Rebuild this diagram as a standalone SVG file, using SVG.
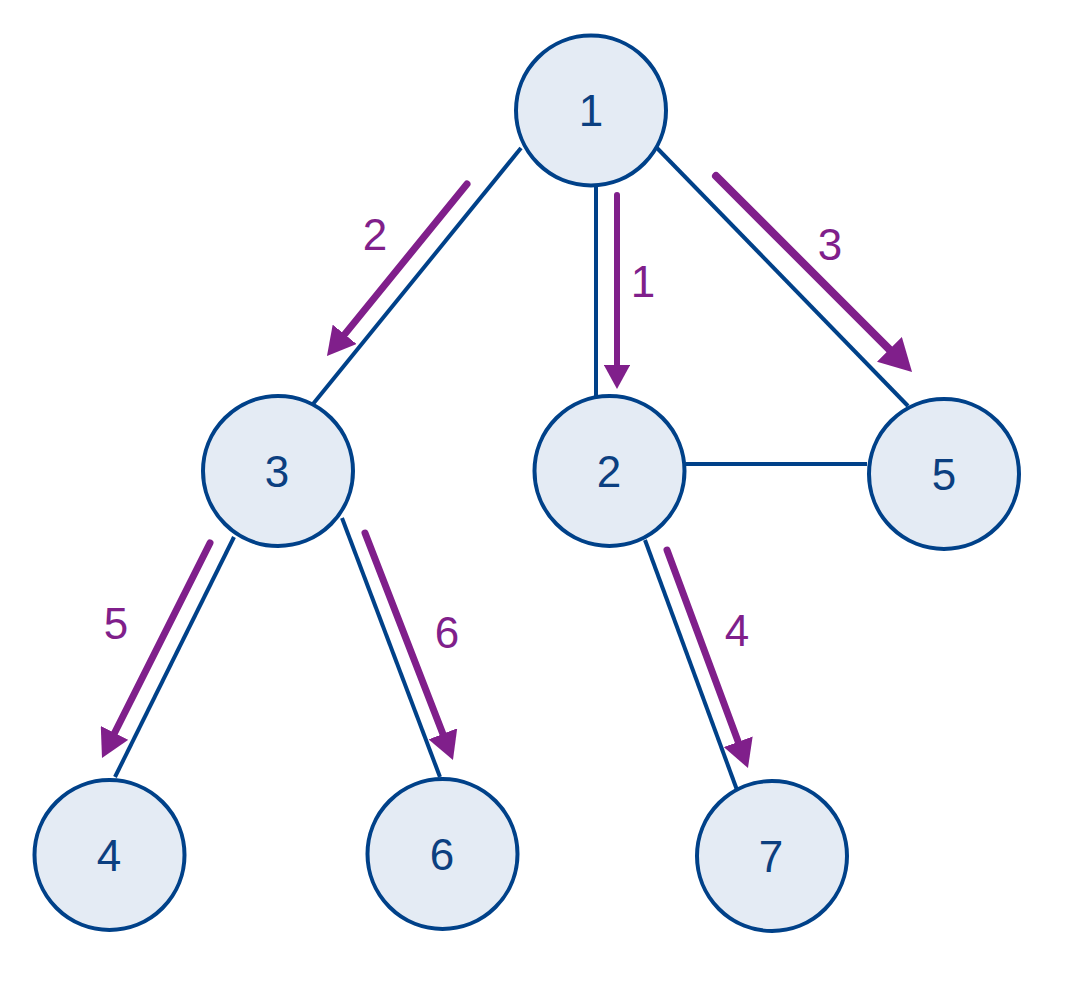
<svg xmlns="http://www.w3.org/2000/svg" width="1069" height="1000" viewBox="0 0 1069 1000">
<style>
.node circle{fill:#e4ebf4;stroke:#004189;stroke-width:4}
.node text{font-family:"Liberation Sans",Arial,sans-serif;font-size:44px;fill:#0b3f80;text-anchor:middle}
.edge{stroke:#004189;stroke-width:4;fill:none}
.arrow{stroke:#801f8b;fill:none;stroke-linecap:round;marker-end:url(#ah)}
.lbl{font-family:"Liberation Sans",Arial,sans-serif;font-size:44px;fill:#801f8b;text-anchor:middle}
</style>
<defs>
<marker id="ah" viewBox="0 0 4 4.4" markerWidth="4" markerHeight="4.4" refX="1.8" refY="2.2" orient="auto" markerUnits="strokeWidth">
<path d="M0,0 L4,2.2 L0,4.4 z" fill="#801f8b"/>
</marker>
</defs>
<g id="connectors">
<line class="edge" x1="521" y1="148" x2="313" y2="404"/>
<line class="edge" x1="596" y1="186" x2="596" y2="397"/>
<line class="edge" x1="657" y1="148" x2="908" y2="406"/>
<line class="edge" x1="686" y1="464" x2="867" y2="464"/>
<line class="edge" x1="234" y1="537" x2="115" y2="777"/>
<line class="edge" x1="342" y1="518" x2="440" y2="777"/>
<line class="edge" x1="645" y1="540" x2="737" y2="790"/>
<line class="arrow" stroke-width="6" x1="617" y1="195" x2="617" y2="375.8"/>
<line class="arrow" stroke-width="7" x1="467" y1="184" x2="336.7" y2="344.1"/>
<line class="arrow" stroke-width="8" x1="716" y1="176" x2="899.6" y2="359.6"/>
<line class="arrow" stroke-width="7" x1="667" y1="550" x2="742.6" y2="753.6"/>
<line class="arrow" stroke-width="7" x1="210" y1="543" x2="108.9" y2="744.2"/>
<line class="arrow" stroke-width="7" x1="365" y1="533" x2="447.4" y2="745.6"/>
<text class="lbl" x="643" y="297">1</text>
<text class="lbl" x="375" y="250">2</text>
<text class="lbl" x="830" y="260">3</text>
<text class="lbl" x="737" y="646">4</text>
<text class="lbl" x="116" y="639">5</text>
<text class="lbl" x="447" y="648">6</text>
</g>
<g id="node1" class="node"><circle cx="591" cy="110.5" r="75"/><text x="591" y="126">1</text></g>
<g id="node2" class="node"><circle cx="609.5" cy="471" r="75"/><text x="609" y="487">2</text></g>
<g id="node3" class="node"><circle cx="278" cy="471" r="75"/><text x="277" y="487">3</text></g>
<g id="node4" class="node"><circle cx="109.5" cy="855" r="75"/><text x="109" y="871">4</text></g>
<g id="node5" class="node"><circle cx="944" cy="474" r="75"/><text x="944" y="490">5</text></g>
<g id="node6" class="node"><circle cx="442.5" cy="854" r="75"/><text x="442" y="870">6</text></g>
<g id="node7" class="node"><circle cx="772" cy="856" r="75"/><text x="771" y="872">7</text></g>
</svg>
